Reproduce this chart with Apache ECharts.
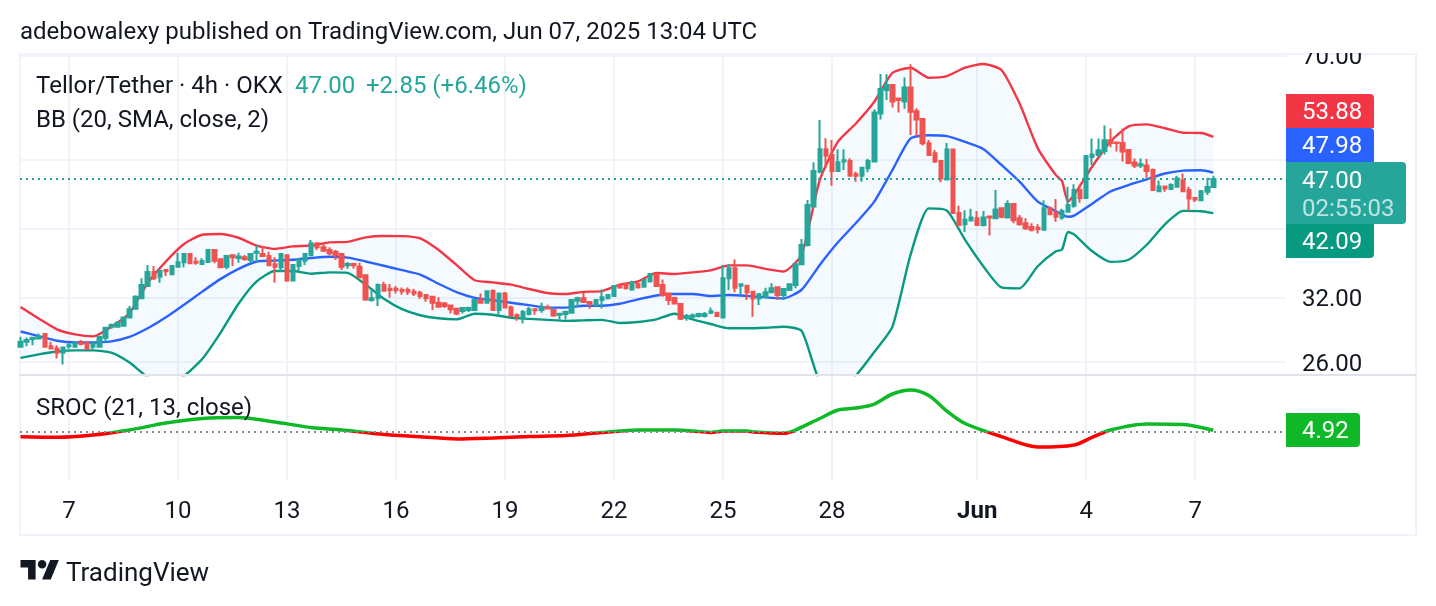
<!DOCTYPE html>
<html>
<head>
<meta charset="utf-8">
<title>Tellor/Tether 4h</title>
<style>
    html, body { margin: 0; padding: 0; background: #fff; }
    #main { width: 1436px; height: 606px; }
</style>
</head>
<body>
<div id="main"></div>
<script src="https://cdn.jsdelivr.net/npm/echarts@6/dist/echarts.min.js"></script>
<script>
// 4h candles, oldest first
var opens = [
    27.31,27.76,28.00,28.06,28.46,27.37,27.16,26.79,27.37,27.31,
    27.73,27.67,27.31,27.31,28.12,29.14,29.14,29.23,30.04,30.89,
    31.95,33.24,34.79,34.27,35.02,34.53,35.40,35.90,36.88,35.98,
    35.71,35.94,37.36,36.25,35.40,36.73,36.41,36.49,36.17,37.04,
    36.88,36.65,35.67,35.33,36.73,33.84,35.48,36.09,36.73,38.18,
    37.69,37.36,37.16,36.88,35.56,35.71,35.40,34.42,31.77,31.95,
    33.35,32.96,32.96,32.82,32.82,32.64,32.53,32.29,32.12,31.50,
    31.43,31.23,30.89,30.66,30.76,30.76,31.77,31.50,32.75,30.76,
    32.46,31.02,30.27,29.94,30.36,30.83,30.76,31.02,30.76,30.30,
    30.36,30.50,31.70,31.95,31.57,31.26,31.77,31.95,32.19,33.24,
    33.46,32.89,33.46,33.17,33.75,34.57,33.35,32.46,31.98,31.36,
    29.97,30.10,30.17,30.17,30.50,30.50,30.04,34.09,35.21,33.29,
    33.29,32.65,31.94,32.08,32.58,33.11,32.30,32.82,33.36,35.67,
    37.98,43.00,48.14,51.76,50.81,48.24,49.74,49.85,47.72,47.52,
    48.66,49.74,58.10,62.70,63.70,61.00,60.40,63.20,58.55,57.10,
    52.78,51.10,49.85,46.95,51.70,42.10,40.60,41.10,41.40,40.50,
    41.65,41.40,42.75,41.50,43.35,41.40,40.75,40.25,40.15,39.90,
    42.75,42.10,41.50,42.30,43.10,45.35,44.20,50.50,50.80,51.45,
    53.30,52.90,52.80,51.65,49.60,49.10,49.10,48.40,45.20,45.90,
    45.50,45.85,46.80,45.35,44.20,43.90,45.10,45.80
];
var closes = [
    27.76,27.91,28.12,28.21,27.31,27.16,26.79,27.25,27.46,27.67,
    27.55,27.13,27.61,28.21,29.05,29.30,29.52,30.04,30.83,32.12,
    33.35,34.79,34.09,34.94,34.87,35.48,35.90,36.88,35.79,35.86,
    36.05,37.36,36.09,35.33,36.65,36.49,36.57,36.29,36.88,37.16,
    36.65,35.56,35.40,36.88,33.84,35.60,36.17,36.88,38.18,37.69,
    37.28,36.96,36.73,35.40,35.71,35.56,34.20,31.84,31.95,33.35,
    32.75,32.82,32.82,32.68,32.64,32.46,32.19,31.95,31.50,31.09,
    31.16,30.83,30.43,30.96,30.96,31.77,31.50,32.68,30.76,32.46,
    31.02,30.17,30.17,30.56,30.83,30.73,31.02,30.92,30.23,30.40,
    30.60,31.77,31.95,31.57,31.43,31.77,32.05,32.29,33.24,33.10,
    33.00,33.64,33.10,33.90,34.57,33.24,32.29,31.77,31.43,29.91,
    30.17,30.23,30.36,30.36,30.63,30.17,34.09,35.21,33.07,33.43,
    32.58,31.94,32.37,32.58,33.00,32.30,32.93,33.43,35.67,37.98,
    43.22,48.24,51.76,50.70,48.24,49.63,49.96,47.52,47.52,48.76,
    49.85,58.30,62.92,63.70,60.40,60.70,63.20,58.43,57.00,52.78,
    50.81,49.74,47.10,51.70,42.10,40.50,41.20,41.50,40.50,41.50,
    41.50,42.60,41.60,43.35,41.15,40.60,40.10,39.90,40.00,42.75,
    41.95,41.60,42.40,43.20,45.35,44.20,50.65,50.90,51.60,53.30,
    52.80,52.80,51.40,49.50,49.10,49.30,48.25,45.35,45.90,45.60,
    46.10,47.10,45.20,44.15,44.00,45.20,45.80,47.00
];
var lows = [
    27.25,27.37,27.46,28.06,27.25,27.13,26.30,25.80,27.13,27.25,
    27.46,27.02,27.02,27.31,27.76,28.95,29.08,29.23,29.94,30.83,
    31.88,33.17,33.90,33.60,34.34,34.46,35.33,35.33,35.71,35.63,
    35.63,35.86,35.79,35.21,35.10,35.48,35.86,36.09,35.79,35.86,
    36.57,35.48,33.60,34.83,33.72,33.84,34.94,35.60,36.65,37.36,
    37.12,36.73,36.17,35.02,35.17,35.17,34.13,31.70,31.60,31.16,
    32.64,32.02,32.46,32.33,32.29,32.19,31.91,31.60,30.76,31.02,
    30.96,30.43,30.27,30.43,30.56,30.76,31.43,31.50,30.70,30.30,
    30.96,30.10,29.72,29.46,30.23,30.30,30.50,30.83,30.10,29.84,
    29.84,30.50,31.09,31.50,30.89,31.09,30.92,31.84,32.19,32.96,
    32.89,32.75,33.03,33.17,33.68,33.17,32.12,31.26,31.36,29.78,
    29.72,29.91,30.04,30.04,30.36,30.10,29.94,32.82,32.58,32.37,
    31.78,30.10,31.27,32.01,32.51,31.78,31.78,32.82,33.00,35.60,
    37.78,42.91,47.88,48.66,46.00,48.14,48.40,47.41,46.60,46.60,
    48.03,49.63,57.00,60.70,59.25,58.30,59.00,54.20,54.00,52.40,
    50.66,49.50,46.50,46.80,42.00,40.40,39.60,41.10,40.40,40.30,
    39.14,41.30,41.40,41.40,40.75,40.40,39.85,39.65,39.40,39.90,
    41.85,40.95,41.20,42.20,42.85,43.55,44.20,49.20,50.55,50.90,
    52.10,51.40,49.75,49.30,48.70,48.70,47.20,45.35,45.10,45.10,
    45.40,45.80,45.20,42.40,43.65,43.75,44.65,45.80
];
var highs = [
    28.21,28.15,28.15,28.52,28.52,27.76,27.46,27.31,27.67,27.73,
    27.91,27.73,27.70,28.21,29.14,29.46,29.65,30.04,31.16,32.26,
    34.09,35.60,35.48,35.02,35.10,35.60,37.04,36.96,36.96,36.49,
    36.37,37.44,37.44,36.37,36.73,36.84,37.04,36.76,36.96,37.93,
    37.85,37.16,36.49,36.96,36.73,35.60,36.37,36.96,38.59,38.26,
    38.18,37.69,37.36,36.96,35.94,35.86,35.86,34.49,32.82,33.53,
    33.72,33.46,33.24,33.10,33.10,32.96,32.75,32.40,32.19,32.05,
    31.57,31.26,30.96,31.02,31.09,31.77,32.46,32.68,32.89,32.53,
    32.60,31.23,30.43,30.76,31.09,30.83,31.50,31.30,30.83,30.43,
    30.69,31.77,32.12,32.53,31.63,31.84,32.89,32.40,33.24,33.38,
    33.60,33.82,33.72,33.90,34.64,34.64,33.97,32.53,32.12,31.36,
    30.36,30.43,30.50,30.56,31.02,30.56,35.60,35.67,36.24,33.54,
    33.36,32.72,32.51,33.07,33.54,33.14,33.00,33.43,35.78,38.72,
    43.92,49.63,56.90,53.62,53.33,51.76,51.76,50.27,48.14,48.92,
    50.18,58.90,66.05,65.98,63.85,61.00,65.30,68.13,59.10,57.25,
    53.33,51.65,49.85,52.80,51.70,43.10,42.50,42.70,42.40,42.40,
    41.65,45.35,42.85,43.90,43.45,41.85,41.40,40.75,40.60,43.90,
    43.00,44.05,42.70,45.85,46.20,46.10,50.65,53.60,53.60,55.90,
    55.35,52.90,55.35,51.80,50.25,50.25,50.15,48.65,46.80,46.00,
    46.35,47.50,47.85,45.85,44.20,45.35,47.20,47.50
];

// bollinger bands, sampled along the bars listed in bandBars
var bandBars = [
    0,3,6,9,12,15,18,21,24,27,30,33,36,39,42,45,48,51,54,57,
    60,63,66,69,72,75,78,81,84,87,90,93,96,99,102,105,108,111,114,117,
    120,123,126,129,132,135,138,141,144,147,150,153,156,159,162,165,168,171,
    172,173,174,177,180,183,186,189,192,195,197
];
var bbUpper = [
    31.07,29.93,28.90,28.43,28.25,29.15,30.47,33.58,36.00,38.10,39.25,39.35,38.87,37.90,37.50,37.80,37.90,38.30,38.35,38.92,
    39.10,39.08,38.80,37.40,35.60,33.88,33.65,33.40,32.93,32.50,32.40,32.63,32.70,33.40,33.75,34.68,34.57,34.75,34.98,35.55,
    35.55,35.15,34.85,36.80,46.87,53.05,56.30,60.35,66.25,67.40,65.25,65.60,67.40,68.20,66.90,60.00,51.95,47.60,
    46.70,43.70,44.65,48.95,53.05,55.75,56.10,55.40,54.60,54.55,53.88
];
var bbMiddle = [
    28.70,28.28,27.85,27.70,27.70,27.80,28.20,29.00,30.05,31.30,32.65,34.00,35.15,36.00,36.10,36.20,36.40,36.55,36.45,36.00,
    35.50,35.00,34.50,33.50,32.60,32.00,31.75,31.50,31.25,31.00,31.00,31.20,31.20,31.40,31.85,32.25,32.40,32.40,32.20,32.30,
    32.20,32.05,31.95,32.85,35.60,38.30,40.80,43.70,48.40,53.60,54.15,54.00,53.00,51.80,49.20,46.60,43.70,42.35,
    41.90,41.60,41.75,43.40,45.15,46.10,46.95,47.85,48.30,48.35,47.98
];
var bbLower = [
    26.35,26.65,26.90,27.00,27.00,26.80,25.95,24.75,24.10,24.85,26.25,28.55,31.40,33.75,34.90,34.90,34.60,34.75,34.70,33.40,
    31.90,30.85,30.25,29.95,29.85,30.40,30.30,30.00,29.90,29.80,29.70,29.75,29.80,29.50,29.60,29.85,30.40,29.85,29.40,29.00,
    29.00,29.05,29.15,28.75,24.40,23.55,24.90,26.85,29.15,36.80,42.75,42.45,38.60,35.45,33.10,33.00,35.45,37.20,
    37.40,39.60,39.30,37.20,35.95,36.20,38.00,40.60,42.40,42.35,42.09
];

// SROC (21, 13), sampled along sroc bars
var srocBars = [
    0,6,12,18,24,30,36,42,48,54,60,66,72,78,84,90,96,102,108,112,114,116,120,121,126,127,128,
    132,135,138,141,144,147,150,153,156,162,168,174,177,180,186,192,197
];
var srocValues = [
    -13.4,-15.1,-8.6,5.7,25.7,38.6,41.4,28.6,12.9,4.3,-7.1,-13.4,-20.0,-17.1,-12.9,-10.0,-1.4,5.7,5.7,1.4,-1.0,2.9,2.9,0.2,-3.7,-0.5,5.7,
    38.6,62.9,68.6,80.0,108.6,120.0,104.3,60.0,24.3,-12.9,-42.9,-37.1,-15.0,5.7,22.9,21.4,4.92
];

var priceTicks = [70, 50, 40, 32, 26];
var priceLabels = [70, 32, 26];
var dayBars = [8, 26, 44, 62, 80, 98, 116, 134, 158, 176, 194];
var dayLabels = ['7', '10', '13', '16', '19', '22', '25', '28', 'Jun', '4', '7'];

var lastClose = 47.00;
var UP = '#26a69a', DOWN = '#ef5350', GRID = '#f0f3fa', INK = '#131722', FONT = 'Roboto';

function pairs(bars, values) {
    return bars.map(function (b, i) { return [b, values[i]]; });
}
function txt(text, x, y, color, size, weight) {
    return {
        type: 'text', z: 101, silent: true,
        style: {
            text: text, x: x, y: y + 2, fill: color || INK,
            font: (weight || 'normal') + ' ' + (size || 24) + 'px ' + FONT,
            verticalAlign: 'middle'
        }
    };
}
function tag(x, y, w, h, color, r) {
    return { type: 'rect', z: 100, silent: true, shape: { x: x, y: y, width: w, height: h, r: r }, style: { fill: color } };
}
function logoPart(points) {
    return { type: 'polygon', z: 100, silent: true, x: 20.5, y: 555.7, scaleX: 1.08, scaleY: 1.08, shape: { points: points }, style: { fill: INK } };
}
function bandLine(values, color) {
    return {
        type: 'line', xAxisIndex: 0, yAxisIndex: 0, data: pairs(bandBars, values), z: 3,
        smooth: 0.2, showSymbol: false, silent: true, lineStyle: { color: color, width: 2.4 }, itemStyle: { color: color }
    };
}

var candleData = opens.map(function (o, i) { return [i, o, closes[i], lows[i], highs[i]]; });

var option = {
    animation: false,
    backgroundColor: '#fff',
    textStyle: { fontFamily: FONT },
    grid: [
        { left: 20, right: 150, top: 54, height: 321 },
        { left: 20, right: 150, top: 376, height: 104 }
    ],
    xAxis: [0, 1].map(function (n) {
        return {
            type: 'value', gridIndex: n, min: -0.09, max: 209,
            axisLine: { show: false },
            axisTick: { show: false, customValues: dayBars },
            splitLine: { show: true, lineStyle: { color: GRID, width: 2 } },
            axisLabel: {
                show: n === 1,
                customValues: dayBars,
                margin: 20,
                color: INK,
                fontFamily: FONT,
                fontSize: 24,
                formatter: function (v) {
                    var s = dayLabels[dayBars.indexOf(v)];
                    return s === 'Jun' ? '{b|Jun}' : s;
                },
                rich: { b: { fontWeight: 'bold', fontSize: 24, color: INK, fontFamily: FONT } }
            }
        };
    }),
    yAxis: [
        {
            type: 'log', logBase: 10, gridIndex: 0, position: 'right', min: 24.93, max: 70.45,
            axisLine: { show: false },
            axisTick: { show: false, customValues: priceTicks },
            splitLine: { show: true, lineStyle: { color: GRID, width: 2 } },
            axisLabel: {
                customValues: priceLabels, margin: 16,
                formatter: function (v) { return '{p|' + Number(v).toFixed(2) + '}'; },
                rich: { p: { color: INK, fontFamily: FONT, fontSize: 24, padding: [5, 0, 0, 0] } }
            }
        },
        {
            type: 'value', gridIndex: 1, position: 'right', min: -137, max: 160,
            axisLine: { show: false }, axisTick: { show: false },
            axisLabel: { show: false }, splitLine: { show: false }
        }
    ],
    visualMap: {
        show: false, seriesIndex: 5, dimension: 1,
        pieces: [{ gte: -200, lte: 0, color: '#ff0000' }, { gt: 0, lte: 200, color: '#0fb827' }]
    },
    series: [
        {
            // fill between the outer bands
            type: 'custom', xAxisIndex: 0, yAxisIndex: 0, clip: true, z: 1, silent: true,
            data: bandBars.map(function (b, i) { return [b, bbUpper[i], bbLower[i]]; }),
            encode: { x: 0, y: [1, 2] },
            renderItem: function (params, api) {
                if (params.dataIndex !== 0) return null;
                var pts = [];
                bandBars.forEach(function (b, i) { pts.push(api.coord([b, bbUpper[i]])); });
                for (var i = bandBars.length - 1; i >= 0; i--) pts.push(api.coord([bandBars[i], bbLower[i]]));
                return { type: 'polygon', shape: { points: pts, smooth: 0 }, style: { fill: 'rgba(33,150,243,0.045)' } };
            }
        },
        bandLine(bbUpper, '#f23645'),
        bandLine(bbMiddle, '#2962ff'),
        bandLine(bbLower, '#089981'),
        {
            type: 'candlestick', xAxisIndex: 0, yAxisIndex: 0, data: candleData, z: 4,
            barWidth: 4, silent: true,
            itemStyle: { color: UP, color0: DOWN, borderColor: UP, borderColor0: DOWN, borderWidth: 2 },
            markLine: {
                silent: true, symbol: 'none', label: { show: false }, animation: false,
                lineStyle: { color: UP, type: [2, 4], width: 2 },
                data: [{ yAxis: lastClose }]
            }
        },
        {
            type: 'line', xAxisIndex: 1, yAxisIndex: 1, data: pairs(srocBars, srocValues), z: 3,
            smooth: 0.3, showSymbol: false, silent: true, lineStyle: { width: 3.5 },
            markLine: {
                silent: true, symbol: 'none', label: { show: false }, animation: false,
                lineStyle: { color: '#868993', type: [2, 4], width: 2 },
                data: [{ yAxis: 0 }]
            }
        }
    ],
    graphic: [
        // outer frame and pane separator
        { type: 'rect', z: 0, silent: true, shape: { x: 20, y: 54, width: 1396, height: 481 }, style: { fill: 'none', stroke: GRID, lineWidth: 2 } },
        { type: 'line', z: 50, silent: true, shape: { x1: 20, y1: 375, x2: 1416, y2: 375 }, style: { stroke: '#e0e3eb', lineWidth: 2 } },
        // top of the 70.00 label is cut off by the pane edge
        { type: 'rect', z: 50, silent: true, shape: { x: 1290, y: 40, width: 120, height: 13 }, style: { fill: '#fff' } },

        tag(1286, 94, 88, 34, '#f23645', [0, 4, 0, 0]),
        tag(1286, 128, 88, 34, '#2962ff', [0, 4, 0, 0]),
        tag(1286, 224, 88, 34, '#089981', [0, 0, 4, 0]),
        tag(1286, 162, 120, 62, UP, [0, 4, 4, 0]),
        tag(1286, 413, 74, 34, '#0fb827', [0, 4, 4, 0]),
        txt('53.88', 1302, 111, '#fff'),
        txt('47.98', 1302, 145, '#fff'),
        txt('47.00', 1302, 180, '#fff'),
        txt('02:55:03', 1302, 208, 'rgba(255,255,255,0.7)'),
        txt('42.09', 1302, 241, '#fff'),
        txt('4.92', 1302, 430, '#fff'),

        txt('adebowalexy published on TradingView.com, Jun 07, 2025 13:04 UTC', 20, 31),
        txt('Tellor/Tether · 4h · OKX', 36, 85),
        txt('47.00', 295, 85, UP),
        txt('+2.85 (+6.46%)', 366, 85, UP),
        txt('BB (20, SMA, close, 2)', 36, 119),
        txt('SROC (21, 13, close)', 36, 407),

        // TradingView logo + wordmark
        logoPart([[14, 22], [7, 22], [7, 11], [0, 11], [0, 4], [14, 4]]),
        logoPart([[28, 22], [20, 22], [27.5, 4], [35.5, 4]]),
        { type: 'circle', z: 100, silent: true, shape: { cx: 42.1, cy: 564.3, r: 4.3 }, style: { fill: INK } },
        txt('TradingView', 66, 572, INK, 26)
    ]
};

var chart = echarts.init(document.getElementById('main'));
chart.setOption(option);
</script>
</body>
</html>
